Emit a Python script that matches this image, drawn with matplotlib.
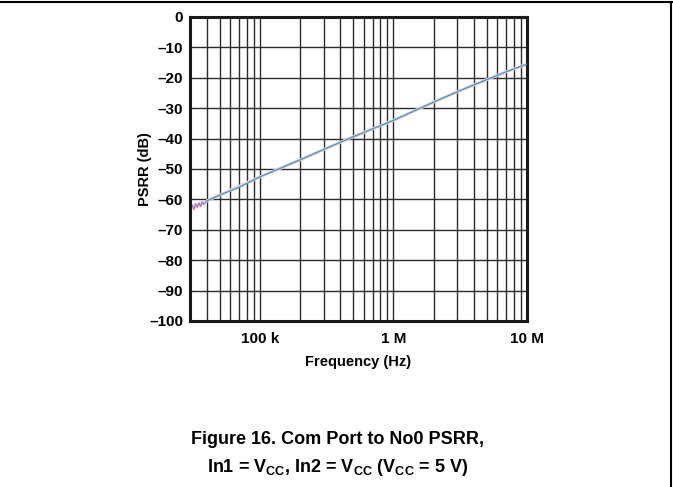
import matplotlib
matplotlib.use("Agg")
import matplotlib.pyplot as plt
import numpy as np

plt.rcParams['font.family'] = ['Liberation Sans', 'DejaVu Sans']
plt.rcParams['font.weight'] = 'bold'
plt.rcParams['mathtext.fontset'] = 'custom'
plt.rcParams['mathtext.rm'] = 'Liberation Sans:bold'
plt.rcParams['mathtext.bf'] = 'Liberation Sans:bold'

# Data
freq_hz = [30e3, 40e3, 50e3, 70e3, 100e3, 200e3, 300e3, 500e3, 1e6, 2e6, 3e6, 5e6, 7e6, 10e6]
psrr_db = [-62.5, -60.5, -58.6, -56.0, -52.6, -47.0, -43.6, -39.4, -34.0, -28.0, -24.6, -20.6, -18.0, -15.5]

# noisy low-frequency part of the second (purple) trace
noise_freq = [30e3, 31e3, 32e3, 33e3, 34e3, 35e3, 36e3, 37e3, 38e3, 40e3]
noise_db = [-63.0, -61.8, -63.2, -61.5, -62.6, -61.2, -62.3, -60.8, -61.6, -60.5]

yticks = [0, -10, -20, -30, -40, -50, -60, -70, -80, -90, -100]
ytick_labels = ['0', '\u201310', '\u201320', '\u201330', '\u201340', '\u201350',
                '\u201360', '\u201370', '\u201380', '\u201390', '\u2013100']
xticks = [1e5, 1e6, 1e7]
xtick_labels = ['100 k', '1 M', '10 M']

fig = plt.figure(figsize=(6.73, 4.87), dpi=100)
ax = fig.add_axes([190/673, 1-321/487, (527-190)/673, (321-17)/487])
ax.set_xscale('log')
ax.set_xlim(30e3, 10e6)
ax.set_ylim(-100, 0)

# grid
minor = [m * 10**e for e in range(4, 8) for m in range(2, 10)]
minor = [v for v in minor if 30e3 < v < 10e6]
for v in minor + [1e5, 1e6]:
    ax.axvline(v, color='#2a2a2a', lw=1.0, zorder=1)
for v in yticks[1:-1]:
    ax.axhline(v, color='#2a2a2a', lw=1.0, zorder=1)

# traces
pf = list(noise_freq) + freq_hz[4:]
pd_ = list(noise_db) + psrr_db[4:]
ax.plot(pf, pd_, color='#f0d0e0', lw=2.2, zorder=2)
ax.plot(noise_freq, noise_db, color='#a070b0', lw=0.8, zorder=2)
ax.plot(freq_hz[1:], psrr_db[1:], color='#4a9cc0', lw=1.0, zorder=3)

ax.set_xticks(xticks)
ax.set_xticklabels(xtick_labels)
ax.xaxis.set_minor_locator(matplotlib.ticker.NullLocator())
ax.set_yticks(yticks)
ax.set_yticklabels(ytick_labels)
ax.tick_params(axis='y', length=0, labelsize=11, pad=5)
ax.tick_params(axis='x', length=0, labelsize=11, pad=8)
for lab in ax.get_xticklabels() + ax.get_yticklabels():
    lab.set_fontweight('bold')

for s in ax.spines.values():
    s.set_linewidth(2.2)
    s.set_color('#1a1a1a')

ax.set_xlabel('Frequency (Hz)', fontsize=10.5, fontweight='bold')
ax.set_ylabel('PSRR (dB)', fontsize=10.5, fontweight='bold')
ax.xaxis.set_label_coords(0.5, -(362-321)/304, transform=ax.transAxes)
ax.xaxis.label.set_va('center')
ax.yaxis.set_label_coords(-(190-145)/337, 0.5, transform=ax.transAxes)
ax.yaxis.label.set_va('center')

fig.text(0.502, 1-440/487, 'Figure 16. Com Port to No0 PSRR,', ha='center', va='center',
         fontsize=13, fontweight='bold')
fig.text(0.502, 1-467/487,
         r'In1 = V$_\mathrm{CC}$, In2 = V$_\mathrm{CC}$ (V$_\mathrm{CC}$ = 5 V)',
         ha='center', va='center', fontsize=13, fontweight='bold')

# page border lines
fig.add_artist(plt.Line2D([0, 1], [1-2/487, 1-2/487], color='black', lw=1.5, transform=fig.transFigure))
fig.add_artist(plt.Line2D([671/673, 671/673], [0, 1-2/487], color='black', lw=1.5, transform=fig.transFigure))

fig.savefig('out.png', dpi=100)
